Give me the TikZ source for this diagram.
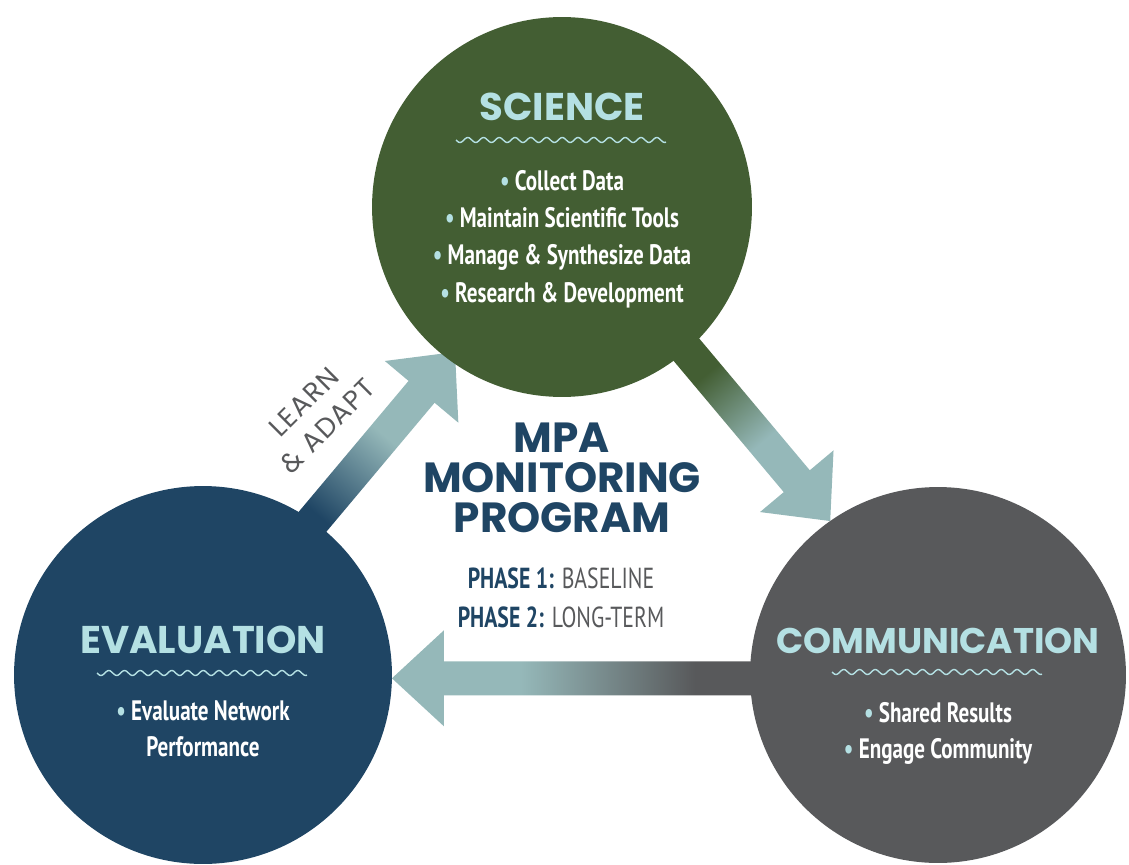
\documentclass[tikz,border=0pt]{standalone}
\usepackage{fontspec}
\setmainfont{PT Sans}
\newfontfamily\headfont{Poppins}
\newfontfamily\condfont{PT Sans}[FakeStretch=0.75]
\usetikzlibrary{backgrounds}

\definecolor{scigreen}{HTML}{435E33}
\definecolor{evalblue}{HTML}{1F4564}
\definecolor{commgray}{HTML}{58595B}
\definecolor{arrowteal}{HTML}{95B8B9}
\definecolor{titleteal}{HTML}{B4E0E3}

\pgfdeclarehorizontalshading{sciflow}{100bp}{color(0bp)=(scigreen); color(38bp)=(scigreen); color(55bp)=(arrowteal); color(100bp)=(arrowteal)}
\pgfdeclarehorizontalshading{commflow}{100bp}{color(0bp)=(commgray); color(35bp)=(commgray); color(58bp)=(arrowteal); color(100bp)=(arrowteal)}
\pgfdeclarehorizontalshading{evalflow}{100bp}{color(0bp)=(evalblue); color(34bp)=(evalblue); color(54bp)=(arrowteal); color(100bp)=(arrowteal)}

% block arrow: tip, angle, length, shading
\newcommand{\flowarrow}[4]{%
  \begin{scope}[transform canvas={shift={(#1)}, rotate=#2}]
    \shade[shading=#4] (0,0) -- (-52,48) -- (-52,17) -- (-#3,17) -- (-#3,-17) -- (-52,-17) -- (-52,-48) -- cycle;
  \end{scope}}
\newcommand{\wave}[2]{\draw[wavy] plot[domain=0:210, samples=160, smooth] ({#1+\x}, {#2+2.5*sin(22.86*\x)});}
\newcommand{\dotmark}{\textcolor{titleteal}{\textbullet}~}

\begin{document}
\begin{tikzpicture}[x=0.02cm, y=-0.02cm,
    hub/.style={circle, inner sep=0pt, outer sep=0pt},
    title/.style={anchor=base, text=titleteal, font=\headfont\bfseries\fontsize{22}{26}\selectfont},
    item/.style={anchor=base, text=white, font=\condfont\bfseries\fontsize{16}{19}\selectfont},
    program/.style={anchor=base, text=evalblue, font=\headfont\bfseries\fontsize{24}{27}\selectfont},
    phase/.style={anchor=base, text=commgray, font=\condfont\fontsize{16.5}{20}\selectfont},
    wavy/.style={titleteal, line width=0.8pt}]
  \useasboundingbox (0,0) rectangle (1129,865);

  \node[hub, fill=scigreen, minimum size=7.6cm] (sci) at (562,207) {};
  \node[hub, fill=evalblue, minimum size=7.56cm] (eval) at (203,675) {};
  \node[hub, fill=commgray, minimum size=7.52cm] (comm) at (938,675) {};
  \coordinate (adapttip) at (455,352);

  \begin{scope}[on background layer]
    \flowarrow{comm.125}{-50}{260}{sciflow}
    \flowarrow{eval.-1}{180}{379}{commflow}
    \flowarrow{adapttip}{50}{260}{evalflow}
  \end{scope}

  % science
  \node[title] (scit) at (562,120) {SCIENCE};
  \wave{456}{140}
  \node[item] (sci1) at (562,190) {\dotmark Collect Data};
  \node[item] (sci2) at (562,227) {\dotmark Maintain Scientific Tools};
  \node[item] (sci3) at (562,264) {\dotmark Manage \& Synthesize Data};
  \node[item] (sci4) at (562,302) {\dotmark Research \& Development};

  % evaluation
  \node[title] (evalt) at (203,653) {EVALUATION};
  \wave{97}{673}
  \node[item] (eval1) at (203,720) {\dotmark Evaluate Network};
  \node[item] (eval2) at (203,756) {Performance};

  % communication
  \node[title, font=\headfont\bfseries\fontsize{20.3}{24}\selectfont] (commt) at (938,653) {COMMUNICATION};
  \wave{832}{672}
  \node[item] (comm1) at (938,722) {\dotmark Shared Results};
  \node[item] (comm2) at (938,758) {\dotmark Engage Community};

  % middle
  \node[program] (mpa) at (562,452) {MPA};
  \node[program] (mon) at (562,492) {MONITORING};
  \node[program] (prog) at (562,532) {PROGRAM};
  \node[phase] (ph1) at (561,588) {\textbf{\textcolor{evalblue}{PHASE 1:}} BASELINE};
  \node[phase] (ph2) at (561,627) {\textbf{\textcolor{evalblue}{PHASE 2:}} LONG-TERM};

  \node[rotate=45, align=center, text=commgray, font=\headfont\addfontfeatures{LetterSpace=5}\fontsize{15.5}{19}\selectfont] (learn) at (316,414) {LEARN\\\& ADAPT};
\end{tikzpicture}
\end{document}
